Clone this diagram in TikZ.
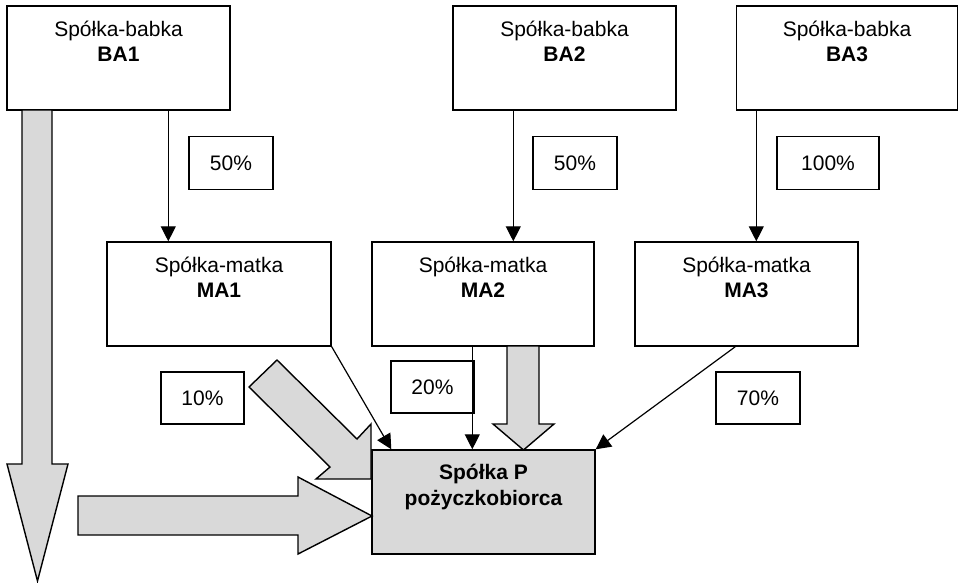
\documentclass[tikz,border=0pt]{standalone}
\usepackage{fontspec}
\setmainfont{Liberation Sans}
\usetikzlibrary{arrows.meta}
\definecolor{blockgray}{HTML}{D9D9D9}
\begin{document}
\begin{tikzpicture}[x=1pt,y=-1pt,
  box/.style={draw, line width=1.4pt, minimum width=223pt, minimum height=104pt, inner sep=0pt},
  pbox/.style={draw, line width=1.4pt, minimum width=84pt, minimum height=53pt, inner sep=0pt, font=\fontsize{21}{25}\selectfont},
  txt/.style={inner sep=0pt, anchor=base, font=\fontsize{21}{25}\selectfont},
  btxt/.style={inner sep=0pt, anchor=base, font=\fontsize{21}{25}\selectfont\bfseries},
  arr/.style={line width=1.2pt, -{Triangle[width=15pt,length=15pt]}},
  block/.style={draw, line width=1.4pt, fill=blockgray, line join=miter}]
\useasboundingbox (0,0) rectangle (959,582);

% top boxes
\node[box] (ba1) at (118.5,58) {};
\node[box] (ba2) at (564.5,58) {};
\node[box, minimum width=221pt] (ba3) at (847,58) {};
\node[txt] (ba1t) at ([yshift=-31pt]ba1.north) {Spółka-babka};
\node[btxt] (ba1n) at ([yshift=-56pt]ba1.north) {BA1};
\node[txt] (ba2t) at ([yshift=-31pt]ba2.north) {Spółka-babka};
\node[btxt] (ba2n) at ([yshift=-56pt]ba2.north) {BA2};
\node[txt] (ba3t) at ([yshift=-31pt]ba3.north) {Spółka-babka};
\node[btxt] (ba3n) at ([yshift=-56pt]ba3.north) {BA3};

% middle boxes
\node[box, minimum width=224pt] (ma1) at (219,294) {};
\node[box, minimum width=222pt] (ma2) at (483,294) {};
\node[box] (ma3) at (746.5,294) {};
\node[txt] (ma1t) at ([yshift=-31pt]ma1.north) {Spółka-matka};
\node[btxt] (ma1n) at ([yshift=-56pt]ma1.north) {MA1};
\node[txt] (ma2t) at ([yshift=-31pt]ma2.north) {Spółka-matka};
\node[btxt] (ma2n) at ([yshift=-56pt]ma2.north) {MA2};
\node[txt] (ma3t) at ([yshift=-31pt]ma3.north) {Spółka-matka};
\node[btxt] (ma3n) at ([yshift=-56pt]ma3.north) {MA3};

% borrower
\node[box, fill=blockgray] (p) at (483.5,502) {};
\node[btxt] (pt) at ([yshift=-30pt]p.north) {Spółka P};
\node[btxt] (pn) at ([yshift=-56pt]p.north) {pożyczkobiorca};

% percentage boxes
\node[pbox] (p50a) at (231,163) {50\%};
\node[pbox] (p50b) at (575,163) {50\%};
\node[pbox, minimum width=102pt] (p100) at (828,163) {100\%};
\node[pbox, minimum width=83pt, minimum height=52pt] (p10) at (202.5,398) {10\%};
\node[pbox, minimum width=83pt, minimum height=52pt] (p20) at (432.5,387) {20\%};
\node[pbox, minimum height=52pt] (p70) at (758,398) {70\%};

% thin arrows
\draw[arr] ([xshift=62pt]ma1.north west |- ba1.south) -- ([xshift=62pt]ma1.north west);
\draw[arr] ([xshift=142pt]ma2.north west |- ba2.south) -- ([xshift=142pt]ma2.north west);
\draw[arr] ([xshift=122pt]ma3.north west |- ba3.south) -- ([xshift=122pt]ma3.north west);
\draw[arr] (ma1.south east) -- ([xshift=20pt]p.north west);
\draw[arr] ([xshift=101pt]ma2.south west) -- ([xshift=101pt]p.north west);
\draw[arr] ([xshift=101pt]ma3.south west) -- (p.north east);

% gray block arrows
\draw[block] (22,110) -- (52,110) -- (52,464) -- (68,464) -- (37.5,581) -- (7,464) -- (22,464) -- cycle;
\draw[block] (78,496) -- (298,496) -- (298,477) -- (372,516) -- (298,554) -- (298,535) -- (78,535) -- cycle;
\draw[block] (249,387) -- (277,360) -- (357,439) -- (371,424) -- (371,479) -- (316,479) -- (330,467) -- cycle;
\draw[block] (507,346) -- (539,346) -- (539,424) -- (554,424) -- (523.5,450) -- (493,424) -- (507,424) -- cycle;
\end{tikzpicture}
\end{document}
